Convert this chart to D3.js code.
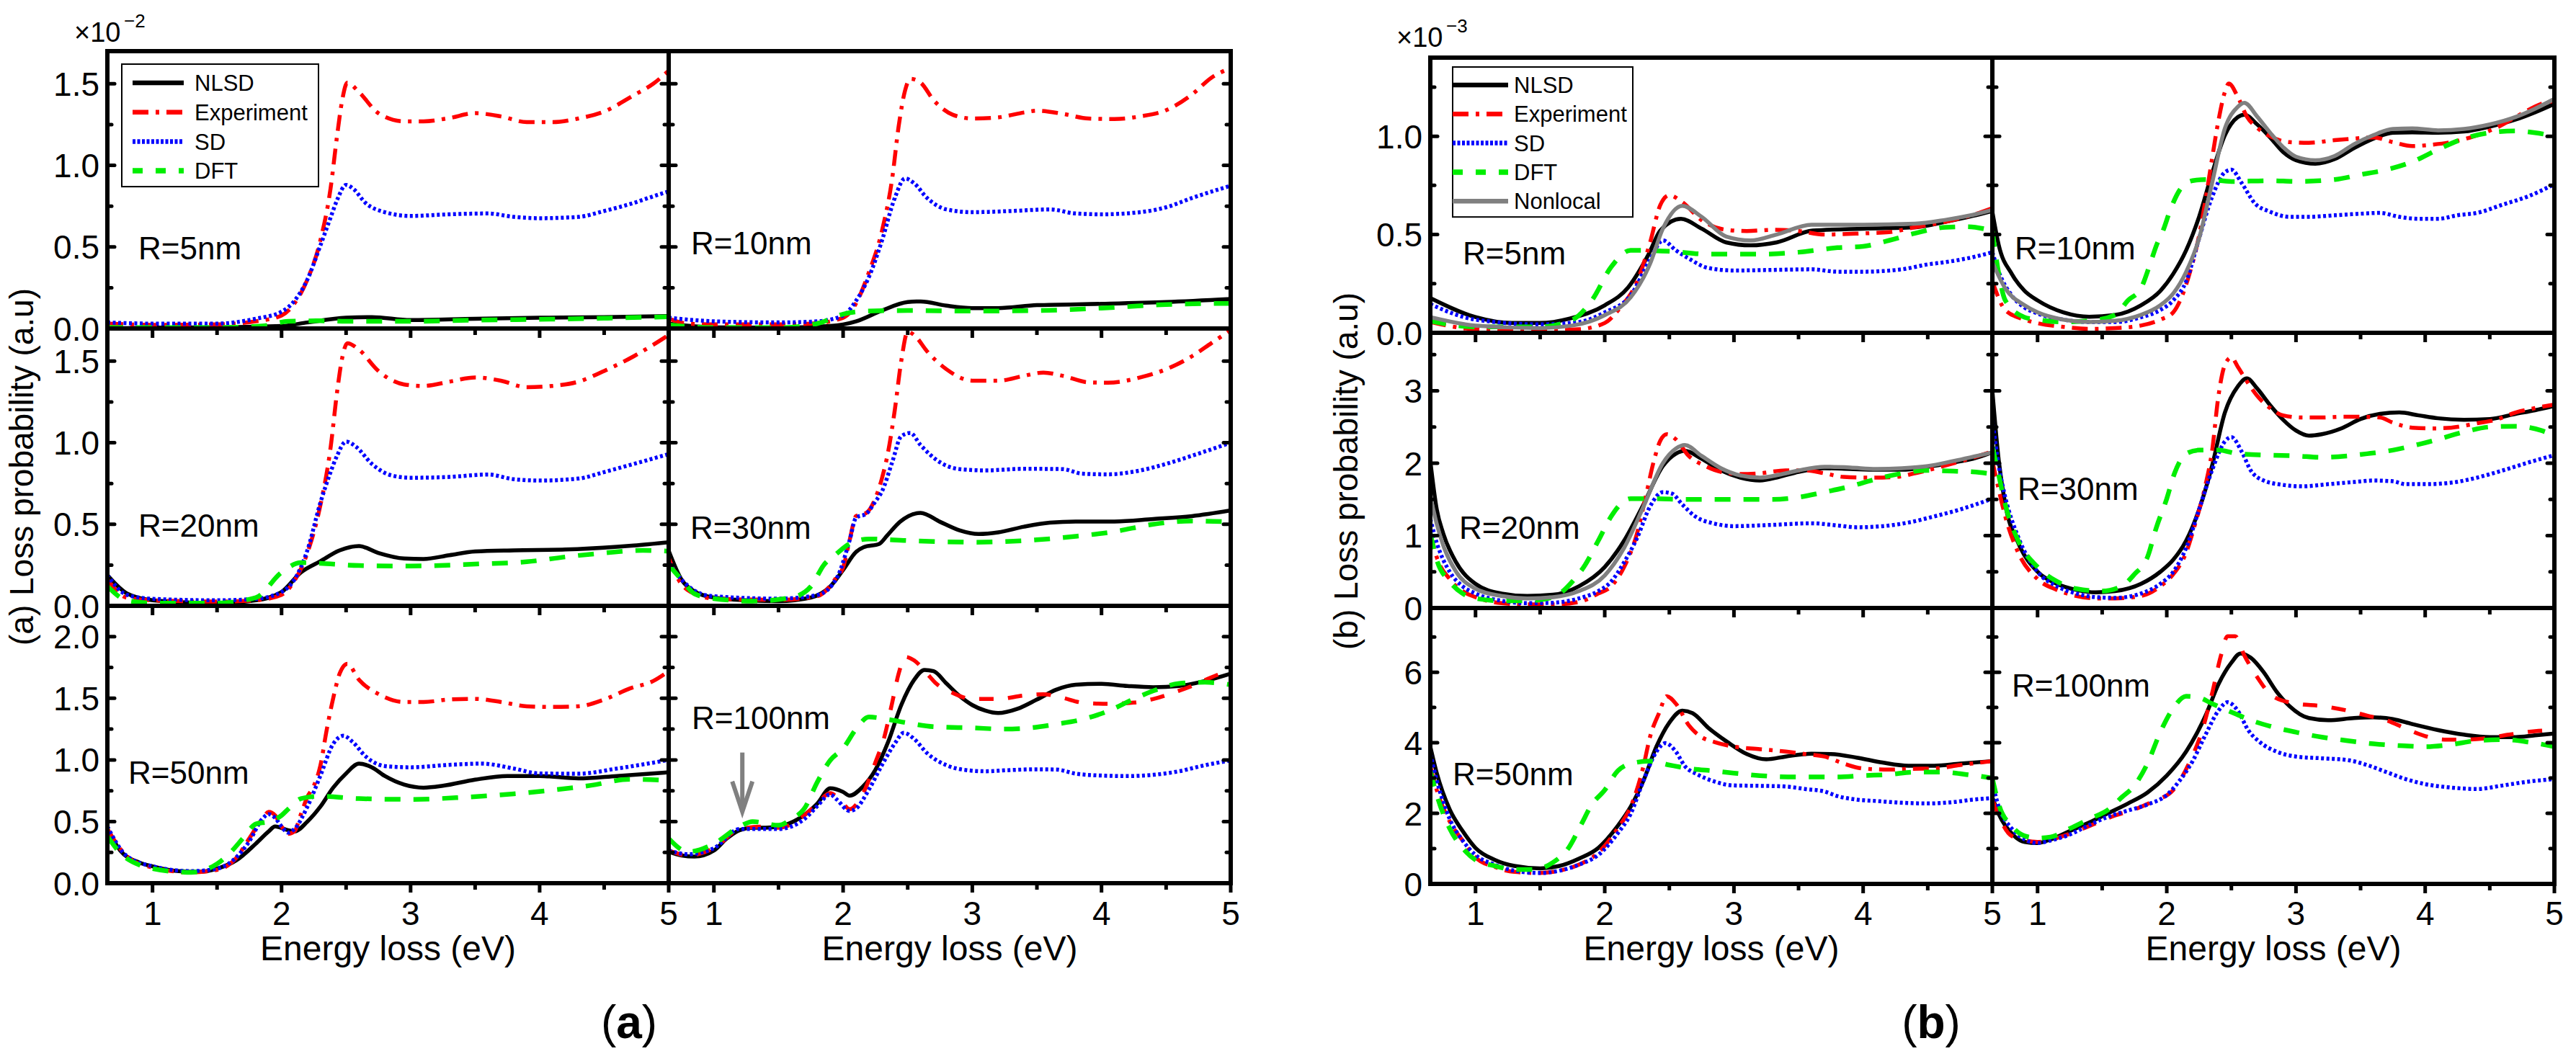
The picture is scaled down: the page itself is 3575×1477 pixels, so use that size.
<!DOCTYPE html>
<html>
<head>
<meta charset="utf-8">
<script src="https://cdn.jsdelivr.net/npm/d3@7"></script>
<style>
body{margin:0;background:#fff}
svg{display:block}
text{font-family:"Liberation Sans",Arial,Helvetica,sans-serif;fill:#000}
</style>
</head>
<body>
<div id="chart"></div>
<script>
"use strict";
// ---- data: [energy (eV), loss probability] ----
// panel (a), units of 1e-2
const a5NLSD=[[0.65,0.0],[1.0,0.005],[1.5,0.007],[2.0,0.015],[2.2,0.037],[2.5,0.066],[2.7,0.07],[3.0,0.052],[3.5,0.06],[4.0,0.066],[4.5,0.07],[5.0,0.076]];
const a5Exp=[[0.65,0.03],[1.0,0.022],[1.5,0.025],[1.8,0.044],[2.0,0.08],[2.1,0.154],[2.2,0.30],[2.3,0.537],[2.38,0.86],[2.43,1.18],[2.47,1.40],[2.51,1.507],[2.6,1.449],[2.75,1.32],[2.95,1.27],[3.1,1.27],[3.3,1.29],[3.5,1.32],[3.7,1.30],[3.9,1.265],[4.1,1.265],[4.3,1.287],[4.5,1.33],[4.73,1.43],[4.88,1.50],[5.0,1.58]];
const a5SD=[[0.65,0.037],[1.0,0.03],[1.5,0.03],[1.8,0.06],[2.0,0.103],[2.1,0.17],[2.2,0.30],[2.3,0.507],[2.38,0.68],[2.43,0.787],[2.5,0.88],[2.56,0.853],[2.65,0.77],[2.8,0.713],[3.0,0.69],[3.3,0.70],[3.6,0.705],[3.8,0.684],[4.0,0.676],[4.3,0.684],[4.5,0.72],[4.73,0.77],[4.88,0.81],[5.0,0.84]];
const a5DFT=[[0.65,0.007],[1.0,0.005],[1.5,0.005],[1.85,0.015],[2.05,0.044],[2.3,0.047],[2.5,0.044],[3.0,0.044],[3.5,0.051],[4.0,0.056],[4.5,0.063],[5.0,0.072]];

const a10NLSD=[[0.65,0.03],[1.0,0.007],[1.5,0.004],[1.9,0.015],[2.1,0.044],[2.3,0.11],[2.5,0.162],[2.6,0.166],[2.8,0.14],[3.0,0.125],[3.2,0.125],[3.5,0.143],[4.0,0.151],[4.5,0.162],[5.0,0.181]];
const a10Exp=[[0.65,0.06],[0.8,0.03],[1.0,0.025],[1.5,0.025],[1.75,0.03],[2.0,0.066],[2.1,0.154],[2.2,0.345],[2.3,0.596],[2.38,0.92],[2.43,1.24],[2.48,1.46],[2.52,1.53],[2.6,1.507],[2.7,1.40],[2.85,1.31],[3.0,1.287],[3.2,1.294],[3.4,1.324],[3.5,1.335],[3.7,1.316],[3.9,1.287],[4.1,1.284],[4.3,1.30],[4.5,1.338],[4.7,1.434],[4.85,1.537],[5.0,1.596]];
const a10SD=[[0.65,0.066],[1.0,0.044],[1.5,0.037],[1.8,0.044],[2.0,0.08],[2.1,0.17],[2.2,0.316],[2.3,0.537],[2.4,0.80],[2.48,0.92],[2.55,0.89],[2.65,0.80],[2.8,0.73],[3.0,0.713],[3.3,0.72],[3.6,0.73],[3.8,0.705],[4.0,0.70],[4.3,0.713],[4.5,0.743],[4.7,0.80],[5.0,0.875]];
const a10DFT=[[0.65,0.022],[1.0,0.005],[1.5,0.005],[1.8,0.03],[2.0,0.088],[2.2,0.107],[2.5,0.11],[3.0,0.107],[3.5,0.11],[4.0,0.125],[4.5,0.147],[5.0,0.154]];

const a20NLSD=[[0.65,0.188],[0.8,0.077],[1.0,0.034],[1.3,0.02],[1.5,0.017],[1.8,0.034],[2.0,0.085],[2.15,0.205],[2.3,0.273],[2.45,0.34],[2.6,0.367],[2.75,0.324],[2.95,0.29],[3.1,0.287],[3.3,0.31],[3.5,0.333],[3.8,0.34],[4.2,0.345],[4.6,0.362],[4.73,0.37],[5.0,0.39]];
const a20Exp=[[0.65,0.162],[0.8,0.05],[1.0,0.034],[1.5,0.026],[1.8,0.034],[2.0,0.068],[2.1,0.154],[2.2,0.324],[2.3,0.614],[2.38,0.97],[2.43,1.31],[2.47,1.52],[2.51,1.61],[2.6,1.57],[2.75,1.44],[2.95,1.357],[3.1,1.348],[3.3,1.374],[3.5,1.40],[3.7,1.38],[3.9,1.34],[4.1,1.348],[4.3,1.374],[4.5,1.44],[4.73,1.53],[4.88,1.60],[5.0,1.66]];
const a20SD=[[0.65,0.188],[0.8,0.068],[1.0,0.043],[1.5,0.034],[1.8,0.043],[2.0,0.085],[2.1,0.162],[2.2,0.34],[2.3,0.63],[2.38,0.82],[2.43,0.92],[2.5,1.007],[2.58,0.973],[2.7,0.87],[2.85,0.80],[3.0,0.785],[3.3,0.79],[3.6,0.805],[3.8,0.776],[4.0,0.768],[4.3,0.78],[4.5,0.82],[4.73,0.87],[5.0,0.93]];
const a20DFT=[[0.65,0.12],[0.8,0.034],[1.0,0.017],[1.5,0.017],[1.8,0.05],[2.0,0.205],[2.15,0.265],[2.3,0.26],[2.6,0.247],[3.0,0.244],[3.5,0.256],[3.9,0.27],[4.2,0.30],[4.5,0.324],[4.8,0.34],[5.0,0.335]];

const a30NLSD=[[0.65,0.338],[0.75,0.16],[0.85,0.088],[1.0,0.051],[1.3,0.032],[1.5,0.029],[1.75,0.051],[1.9,0.118],[2.0,0.22],[2.1,0.33],[2.16,0.36],[2.28,0.38],[2.34,0.43],[2.44,0.515],[2.6,0.57],[2.75,0.515],[2.9,0.463],[3.05,0.44],[3.2,0.45],[3.4,0.485],[3.6,0.51],[3.8,0.517],[4.1,0.517],[4.4,0.532],[4.7,0.55],[5.0,0.585]];
const a30Exp=[[0.65,0.294],[0.75,0.132],[0.9,0.059],[1.0,0.044],[1.5,0.037],[1.8,0.059],[1.95,0.176],[2.0,0.235],[2.05,0.40],[2.1,0.55],[2.18,0.57],[2.25,0.66],[2.3,0.78],[2.35,0.95],[2.4,1.2],[2.45,1.5],[2.5,1.68],[2.55,1.66],[2.65,1.56],[2.8,1.45],[3.0,1.38],[3.2,1.38],[3.4,1.41],[3.55,1.43],[3.7,1.41],[3.9,1.37],[4.05,1.368],[4.3,1.40],[4.5,1.45],[4.7,1.53],[4.85,1.61],[5.0,1.69]];
const a30SD=[[0.65,0.265],[0.75,0.16],[0.9,0.074],[1.0,0.059],[1.5,0.044],[1.8,0.066],[1.95,0.169],[2.05,0.40],[2.1,0.54],[2.18,0.565],[2.25,0.64],[2.3,0.70],[2.38,0.88],[2.45,1.04],[2.52,1.06],[2.6,0.985],[2.75,0.88],[2.9,0.838],[3.1,0.83],[3.4,0.84],[3.7,0.838],[3.85,0.81],[4.05,0.806],[4.3,0.83],[4.5,0.87],[4.7,0.92],[5.0,1.0]];
const a30DFT=[[0.65,0.25],[0.75,0.16],[0.85,0.074],[1.0,0.044],[1.3,0.029],[1.6,0.051],[1.75,0.118],[1.85,0.25],[1.95,0.32],[2.05,0.38],[2.2,0.41],[2.5,0.40],[3.0,0.39],[3.5,0.405],[3.8,0.426],[4.1,0.455],[4.4,0.50],[4.7,0.52],[5.0,0.515]];

const a50NLSD=[[0.65,0.44],[0.75,0.265],[0.9,0.167],[1.0,0.137],[1.2,0.098],[1.35,0.092],[1.5,0.118],[1.65,0.186],[1.8,0.32],[1.9,0.42],[1.95,0.46],[2.05,0.43],[2.1,0.42],[2.2,0.50],[2.3,0.62],[2.4,0.775],[2.5,0.89],[2.6,0.97],[2.7,0.94],[2.8,0.87],[2.95,0.80],[3.1,0.775],[3.25,0.79],[3.5,0.84],[3.75,0.87],[4.0,0.87],[4.3,0.85],[4.6,0.87],[5.0,0.90]];
const a50Exp=[[0.65,0.44],[0.8,0.22],[1.0,0.127],[1.3,0.088],[1.5,0.108],[1.65,0.206],[1.75,0.363],[1.85,0.52],[1.9,0.578],[1.95,0.55],[2.0,0.46],[2.05,0.40],[2.1,0.42],[2.15,0.56],[2.2,0.70],[2.25,0.79],[2.3,0.95],[2.35,1.245],[2.4,1.50],[2.45,1.70],[2.51,1.78],[2.6,1.65],[2.75,1.535],[2.95,1.47],[3.1,1.47],[3.3,1.49],[3.5,1.495],[3.7,1.47],[3.9,1.435],[4.1,1.43],[4.3,1.435],[4.5,1.49],[4.7,1.58],[4.88,1.64],[5.0,1.72]];
const a50SD=[[0.65,0.46],[0.8,0.22],[1.0,0.137],[1.3,0.098],[1.5,0.118],[1.75,0.34],[1.85,0.52],[1.9,0.56],[1.95,0.53],[2.0,0.46],[2.05,0.41],[2.1,0.44],[2.2,0.62],[2.3,0.87],[2.4,1.13],[2.48,1.196],[2.55,1.147],[2.65,1.03],[2.8,0.95],[3.0,0.94],[3.3,0.96],[3.55,0.97],[3.8,0.93],[4.0,0.89],[4.3,0.888],[4.6,0.93],[5.0,1.0]];
const a50DFT=[[0.65,0.38],[0.75,0.245],[0.9,0.147],[1.0,0.118],[1.3,0.088],[1.5,0.157],[1.6,0.245],[1.7,0.363],[1.8,0.48],[1.9,0.50],[2.0,0.55],[2.05,0.60],[2.15,0.686],[2.3,0.706],[2.6,0.686],[3.0,0.68],[3.4,0.696],[3.8,0.725],[4.1,0.755],[4.4,0.794],[4.7,0.843],[5.0,0.833]];

const a100NLSD=[[0.65,0.255],[0.75,0.225],[0.85,0.216],[1.0,0.265],[1.1,0.363],[1.2,0.43],[1.3,0.45],[1.4,0.45],[1.5,0.46],[1.65,0.52],[1.8,0.645],[1.9,0.77],[2.0,0.74],[2.05,0.71],[2.15,0.78],[2.25,0.92],[2.35,1.15],[2.45,1.445],[2.55,1.65],[2.63,1.73],[2.7,1.72],[2.8,1.62],[2.9,1.52],[3.0,1.445],[3.1,1.40],[3.2,1.38],[3.35,1.415],[3.5,1.49],[3.65,1.57],[3.8,1.61],[4.0,1.617],[4.2,1.60],[4.4,1.59],[4.6,1.60],[4.8,1.64],[5.0,1.70]];
const a100Exp=[[0.65,0.265],[0.8,0.225],[1.0,0.284],[1.2,0.44],[1.4,0.46],[1.5,0.45],[1.7,0.55],[1.8,0.645],[1.9,0.73],[2.0,0.645],[2.05,0.60],[2.15,0.72],[2.25,0.98],[2.32,1.19],[2.38,1.465],[2.43,1.70],[2.48,1.836],[2.55,1.807],[2.65,1.70],[2.72,1.62],[2.85,1.543],[3.0,1.494],[3.2,1.494],[3.4,1.523],[3.55,1.533],[3.7,1.504],[3.85,1.465],[4.05,1.455],[4.25,1.465],[4.4,1.494],[4.55,1.543],[4.7,1.60],[4.85,1.67],[5.0,1.73]];
const a100SD=[[0.65,0.265],[0.8,0.235],[1.0,0.284],[1.2,0.44],[1.5,0.44],[1.7,0.52],[1.8,0.625],[1.9,0.72],[1.95,0.68],[2.05,0.586],[2.1,0.605],[2.2,0.76],[2.3,0.957],[2.4,1.133],[2.47,1.22],[2.55,1.17],[2.65,1.055],[2.8,0.957],[2.95,0.918],[3.1,0.908],[3.3,0.918],[3.5,0.924],[3.65,0.922],[3.8,0.889],[4.0,0.873],[4.2,0.869],[4.4,0.879],[4.6,0.908],[4.8,0.957],[5.0,0.996]];
const a100DFT=[[0.65,0.363],[0.8,0.255],[1.0,0.32],[1.2,0.46],[1.3,0.50],[1.5,0.47],[1.6,0.52],[1.7,0.605],[1.8,0.82],[1.9,0.996],[2.0,1.094],[2.1,1.25],[2.2,1.348],[2.35,1.328],[2.5,1.30],[2.7,1.27],[3.0,1.26],[3.25,1.25],[3.45,1.26],[3.65,1.29],[3.85,1.328],[4.05,1.396],[4.25,1.494],[4.4,1.56],[4.6,1.62],[4.8,1.63],[5.0,1.61]];

// panel (b), units of 1e-3
const b5NLSD=[[0.65,0.177],[1.0,0.08],[1.28,0.05],[1.5,0.05],[1.73,0.073],[2.0,0.14],[2.18,0.23],[2.34,0.40],[2.43,0.52],[2.59,0.58],[2.75,0.53],[2.94,0.46],[3.13,0.445],[3.33,0.46],[3.61,0.52],[4.0,0.53],[4.41,0.537],[4.64,0.565],[4.85,0.595],[5.0,0.62]];
const b5Exp=[[0.65,0.055],[1.0,0.018],[1.5,0.012],[1.8,0.018],[2.0,0.05],[2.12,0.128],[2.25,0.26],[2.35,0.457],[2.43,0.65],[2.5,0.70],[2.6,0.665],[2.75,0.573],[2.94,0.524],[3.1,0.518],[3.3,0.524],[3.5,0.518],[3.7,0.50],[4.0,0.506],[4.2,0.512],[4.4,0.537],[4.64,0.565],[4.85,0.60],[5.0,0.634]];
const b5SD=[[0.65,0.146],[1.0,0.067],[1.5,0.043],[1.8,0.055],[2.0,0.104],[2.2,0.19],[2.35,0.372],[2.45,0.47],[2.55,0.42],[2.65,0.378],[2.8,0.33],[3.0,0.317],[3.3,0.32],[3.6,0.323],[3.8,0.311],[4.0,0.311],[4.3,0.323],[4.5,0.348],[4.64,0.36],[4.85,0.385],[5.0,0.41]];
const b5DFT=[[0.65,0.06],[1.0,0.03],[1.5,0.03],[1.75,0.067],[1.9,0.165],[2.05,0.335],[2.2,0.42],[2.5,0.415],[2.8,0.40],[3.2,0.40],[3.5,0.41],[3.8,0.433],[4.0,0.44],[4.2,0.47],[4.4,0.506],[4.64,0.537],[4.8,0.54],[5.0,0.52]];
const b5Nonlocal=[[0.65,0.08],[1.0,0.037],[1.5,0.024],[1.75,0.037],[2.0,0.09],[2.2,0.18],[2.35,0.35],[2.45,0.53],[2.6,0.646],[2.75,0.59],[2.94,0.49],[3.13,0.47],[3.33,0.50],[3.6,0.55],[4.0,0.55],[4.4,0.555],[4.64,0.575],[4.85,0.60],[5.0,0.625]];

const b10NLSD=[[0.65,0.616],[0.7,0.445],[0.8,0.30],[0.9,0.213],[1.0,0.165],[1.2,0.104],[1.4,0.082],[1.6,0.091],[1.8,0.14],[1.95,0.213],[2.05,0.30],[2.15,0.42],[2.25,0.59],[2.35,0.81],[2.45,1.006],[2.55,1.098],[2.6,1.11],[2.7,1.06],[2.8,0.994],[2.9,0.92],[3.0,0.878],[3.15,0.86],[3.3,0.884],[3.45,0.94],[3.6,0.988],[3.75,1.018],[3.9,1.02],[4.1,1.018],[4.3,1.024],[4.5,1.049],[4.7,1.085],[4.85,1.122],[5.0,1.165]];
const b10Exp=[[0.65,0.262],[0.75,0.116],[0.9,0.067],[1.0,0.049],[1.2,0.03],[1.4,0.02],[1.6,0.024],[1.8,0.037],[1.95,0.067],[2.05,0.104],[2.12,0.19],[2.18,0.31],[2.25,0.494],[2.3,0.677],[2.35,0.884],[2.4,1.08],[2.45,1.226],[2.48,1.268],[2.55,1.20],[2.62,1.10],[2.7,1.043],[2.8,1.0],[2.95,0.97],[3.1,0.967],[3.3,0.98],[3.45,0.988],[3.6,0.994],[3.75,0.97],[3.9,0.95],[4.05,0.957],[4.2,0.97],[4.35,0.994],[4.55,1.043],[4.75,1.116],[4.9,1.165],[5.0,1.18]];
const b10SD=[[0.65,0.41],[0.7,0.31],[0.8,0.19],[0.9,0.128],[1.0,0.098],[1.2,0.067],[1.4,0.055],[1.6,0.055],[1.8,0.079],[1.95,0.116],[2.05,0.165],[2.15,0.262],[2.25,0.48],[2.35,0.69],[2.45,0.817],[2.5,0.83],[2.58,0.762],[2.68,0.66],[2.8,0.616],[2.95,0.59],[3.1,0.59],[3.3,0.598],[3.5,0.606],[3.65,0.61],[3.8,0.59],[3.95,0.58],[4.1,0.58],[4.25,0.598],[4.4,0.61],[4.6,0.652],[4.8,0.695],[5.0,0.756]];
const b10DFT=[[0.65,0.518],[0.7,0.30],[0.75,0.165],[0.9,0.079],[1.0,0.067],[1.2,0.055],[1.4,0.061],[1.6,0.091],[1.7,0.165],[1.8,0.226],[1.87,0.348],[1.92,0.445],[1.97,0.518],[2.03,0.63],[2.1,0.726],[2.2,0.774],[2.3,0.78],[2.5,0.77],[2.8,0.774],[3.0,0.77],[3.3,0.78],[3.5,0.805],[3.7,0.83],[3.9,0.87],[4.1,0.933],[4.3,0.988],[4.5,1.018],[4.7,1.027],[4.85,1.018],[5.0,1.0]];
const b10Nonlocal=[[0.65,0.36],[0.75,0.226],[0.9,0.14],[1.0,0.104],[1.2,0.067],[1.4,0.055],[1.6,0.061],[1.8,0.091],[1.95,0.14],[2.05,0.20],[2.15,0.31],[2.25,0.48],[2.35,0.76],[2.45,1.04],[2.55,1.15],[2.6,1.17],[2.7,1.10],[2.8,1.018],[2.9,0.945],[3.0,0.896],[3.15,0.878],[3.3,0.90],[3.45,0.96],[3.6,1.006],[3.75,1.037],[3.9,1.04],[4.1,1.03],[4.3,1.037],[4.5,1.06],[4.7,1.098],[4.85,1.14],[5.0,1.19]];

const b20NLSD=[[0.65,2.03],[0.7,1.36],[0.75,1.03],[0.85,0.63],[1.0,0.333],[1.2,0.20],[1.4,0.166],[1.6,0.183],[1.8,0.30],[2.0,0.566],[2.15,0.93],[2.3,1.43],[2.45,1.96],[2.55,2.13],[2.62,2.17],[2.75,2.06],[2.9,1.90],[3.05,1.80],[3.2,1.76],[3.35,1.81],[3.5,1.88],[3.7,1.93],[3.9,1.92],[4.1,1.91],[4.3,1.91],[4.5,1.95],[4.7,2.01],[4.85,2.06],[5.0,2.15]];
const b20Exp=[[0.65,1.03],[0.7,0.70],[0.8,0.40],[0.9,0.233],[1.0,0.15],[1.2,0.067],[1.4,0.05],[1.6,0.05],[1.8,0.083],[1.95,0.20],[2.05,0.30],[2.15,0.566],[2.25,1.03],[2.32,1.56],[2.38,2.03],[2.43,2.31],[2.48,2.40],[2.55,2.33],[2.65,2.10],[2.78,1.96],[2.9,1.88],[3.05,1.85],[3.2,1.86],[3.4,1.90],[3.55,1.90],[3.7,1.86],[3.85,1.81],[4.05,1.80],[4.25,1.81],[4.4,1.86],[4.6,1.95],[4.8,2.05],[5.0,2.16]];
const b20SD=[[0.65,1.23],[0.7,0.90],[0.8,0.50],[0.9,0.30],[1.0,0.20],[1.2,0.10],[1.4,0.067],[1.6,0.073],[1.8,0.133],[1.95,0.233],[2.05,0.366],[2.15,0.632],[2.25,0.965],[2.35,1.40],[2.45,1.60],[2.52,1.58],[2.6,1.43],[2.7,1.265],[2.85,1.165],[3.0,1.13],[3.3,1.148],[3.6,1.17],[3.8,1.14],[3.95,1.115],[4.15,1.13],[4.35,1.18],[4.55,1.265],[4.75,1.36],[5.0,1.51]];
const b20DFT=[[0.65,1.03],[0.7,0.666],[0.8,0.366],[0.9,0.20],[1.0,0.133],[1.2,0.10],[1.4,0.10],[1.6,0.15],[1.75,0.366],[1.85,0.60],[1.95,0.93],[2.05,1.265],[2.12,1.43],[2.2,1.51],[2.4,1.51],[2.6,1.50],[3.0,1.50],[3.3,1.50],[3.5,1.53],[3.7,1.60],[3.9,1.68],[4.1,1.78],[4.3,1.86],[4.5,1.90],[4.7,1.89],[4.85,1.88],[5.0,1.85]];
const b20Nonlocal=[[0.65,1.55],[0.7,1.16],[0.75,0.865],[0.85,0.50],[1.0,0.266],[1.2,0.166],[1.4,0.133],[1.6,0.15],[1.8,0.233],[2.0,0.45],[2.15,0.83],[2.3,1.40],[2.45,2.0],[2.55,2.20],[2.62,2.25],[2.75,2.10],[2.9,1.93],[3.05,1.83],[3.2,1.80],[3.35,1.84],[3.5,1.90],[3.7,1.95],[3.9,1.94],[4.1,1.92],[4.3,1.93],[4.5,1.96],[4.7,2.03],[5.0,2.15]];

const b30NLSD=[[0.65,3.0],[0.7,2.03],[0.75,1.43],[0.85,0.90],[1.0,0.50],[1.15,0.333],[1.3,0.25],[1.45,0.216],[1.6,0.233],[1.8,0.333],[1.95,0.50],[2.05,0.666],[2.15,0.93],[2.25,1.36],[2.35,1.96],[2.45,2.70],[2.55,3.06],[2.62,3.17],[2.7,3.03],[2.8,2.80],[2.9,2.60],[3.0,2.45],[3.1,2.38],[3.2,2.40],[3.35,2.48],[3.5,2.61],[3.65,2.68],[3.8,2.70],[3.95,2.66],[4.1,2.62],[4.3,2.60],[4.5,2.61],[4.7,2.68],[4.85,2.73],[5.0,2.79]];
const b30Exp=[[0.65,2.03],[0.7,1.63],[0.75,1.265],[0.85,0.765],[1.0,0.40],[1.15,0.25],[1.3,0.166],[1.45,0.133],[1.6,0.133],[1.8,0.166],[1.95,0.30],[2.05,0.466],[2.15,0.765],[2.22,1.165],[2.3,1.70],[2.35,2.16],[2.4,2.93],[2.45,3.36],[2.5,3.46],[2.55,3.33],[2.62,3.13],[2.7,2.93],[2.8,2.76],[2.9,2.66],[3.05,2.63],[3.2,2.63],[3.35,2.64],[3.5,2.64],[3.65,2.63],[3.75,2.56],[3.9,2.49],[4.05,2.48],[4.2,2.49],[4.4,2.55],[4.55,2.60],[4.7,2.70],[4.85,2.76],[5.0,2.81]];
const b30SD=[[0.65,2.60],[0.7,1.96],[0.75,1.53],[0.85,0.98],[1.0,0.50],[1.15,0.30],[1.3,0.20],[1.45,0.15],[1.6,0.14],[1.8,0.20],[1.95,0.333],[2.05,0.50],[2.15,0.83],[2.25,1.36],[2.35,1.90],[2.45,2.30],[2.5,2.36],[2.58,2.16],[2.65,1.90],[2.75,1.76],[2.9,1.70],[3.05,1.68],[3.25,1.71],[3.45,1.74],[3.6,1.76],[3.75,1.75],[3.85,1.71],[4.0,1.71],[4.2,1.73],[4.4,1.80],[4.6,1.90],[4.8,2.01],[5.0,2.11]];
const b30DFT=[[0.65,2.23],[0.7,1.83],[0.75,1.43],[0.85,0.93],[1.0,0.566],[1.15,0.366],[1.3,0.266],[1.5,0.233],[1.65,0.30],[1.75,0.466],[1.85,0.70],[1.92,1.115],[2.0,1.51],[2.06,1.86],[2.15,2.13],[2.25,2.18],[2.4,2.18],[2.55,2.13],[2.8,2.11],[3.0,2.10],[3.2,2.08],[3.4,2.10],[3.55,2.13],[3.75,2.18],[3.95,2.26],[4.1,2.33],[4.3,2.43],[4.5,2.50],[4.7,2.51],[4.9,2.45],[5.0,2.38]];

const b50NLSD=[[0.65,3.89],[0.7,3.14],[0.8,2.11],[0.9,1.50],[1.0,1.02],[1.15,0.68],[1.3,0.51],[1.5,0.44],[1.65,0.51],[1.8,0.716],[1.95,1.02],[2.1,1.64],[2.2,2.18],[2.3,2.93],[2.4,3.89],[2.5,4.57],[2.6,4.91],[2.68,4.84],[2.8,4.43],[2.95,4.02],[3.1,3.68],[3.25,3.53],[3.4,3.61],[3.6,3.69],[3.75,3.68],[3.95,3.58],[4.15,3.44],[4.35,3.35],[4.55,3.35],[4.75,3.41],[5.0,3.48]];
const b50Exp=[[0.65,3.34],[0.7,2.66],[0.8,1.77],[0.9,1.23],[1.0,0.75],[1.15,0.48],[1.3,0.34],[1.5,0.31],[1.65,0.375],[1.8,0.545],[1.95,0.886],[2.1,1.57],[2.2,2.18],[2.3,3.34],[2.35,4.16],[2.42,4.84],[2.48,5.32],[2.55,5.11],[2.65,4.50],[2.75,4.16],[2.85,4.02],[3.0,3.89],[3.2,3.82],[3.4,3.75],[3.55,3.68],[3.7,3.61],[3.85,3.41],[4.0,3.27],[4.2,3.24],[4.35,3.26],[4.55,3.27],[4.75,3.37],[5.0,3.48]];
const b50SD=[[0.65,3.68],[0.7,2.93],[0.8,1.84],[0.9,1.23],[1.0,0.82],[1.15,0.545],[1.3,0.375],[1.5,0.31],[1.65,0.375],[1.8,0.545],[1.95,0.82],[2.1,1.43],[2.2,1.98],[2.3,2.93],[2.4,3.75],[2.47,3.99],[2.55,3.75],[2.62,3.34],[2.72,3.10],[2.85,2.90],[3.0,2.79],[3.2,2.78],[3.4,2.76],[3.55,2.69],[3.7,2.62],[3.8,2.49],[3.95,2.39],[4.1,2.35],[4.3,2.30],[4.5,2.28],[4.7,2.32],[4.85,2.39],[5.0,2.43]];
const b50DFT=[[0.65,3.20],[0.7,2.52],[0.8,1.57],[0.9,1.02],[1.0,0.68],[1.15,0.51],[1.3,0.41],[1.45,0.41],[1.6,0.61],[1.72,1.02],[1.82,1.70],[1.9,2.25],[2.0,2.66],[2.1,3.20],[2.2,3.41],[2.35,3.48],[2.5,3.37],[2.65,3.27],[2.85,3.20],[3.0,3.14],[3.2,3.07],[3.5,3.03],[3.8,3.03],[4.0,3.07],[4.2,3.10],[4.4,3.17],[4.6,3.17],[4.8,3.10],[5.0,3.0]];

const b100NLSD=[[0.65,2.45],[0.7,1.98],[0.8,1.43],[0.9,1.19],[1.0,1.16],[1.1,1.26],[1.25,1.50],[1.4,1.74],[1.55,2.01],[1.7,2.28],[1.85,2.59],[2.0,3.07],[2.15,3.75],[2.3,4.77],[2.4,5.66],[2.5,6.27],[2.57,6.53],[2.65,6.41],[2.75,6.0],[2.85,5.45],[2.95,5.04],[3.1,4.70],[3.25,4.64],[3.45,4.70],[3.6,4.72],[3.75,4.67],[3.9,4.53],[4.1,4.36],[4.3,4.23],[4.5,4.16],[4.7,4.16],[4.85,4.21],[5.0,4.26]];
const b100Exp=[[0.65,2.39],[0.8,1.36],[1.0,1.19],[1.2,1.36],[1.4,1.64],[1.6,1.94],[1.75,2.11],[1.9,2.35],[2.05,2.66],[2.18,3.48],[2.27,4.30],[2.35,5.39],[2.42,6.48],[2.47,7.02],[2.53,7.02],[2.6,6.48],[2.7,5.86],[2.82,5.32],[3.0,5.11],[3.2,5.04],[3.4,4.91],[3.55,4.77],[3.7,4.64],[3.85,4.40],[4.0,4.19],[4.15,4.09],[4.3,4.09],[4.45,4.12],[4.65,4.23],[4.85,4.33],[5.0,4.36]];
const b100SD=[[0.65,2.86],[0.7,2.18],[0.8,1.57],[0.9,1.26],[1.0,1.16],[1.1,1.23],[1.25,1.40],[1.4,1.67],[1.55,1.91],[1.7,2.08],[1.85,2.25],[2.0,2.52],[2.1,2.93],[2.2,3.48],[2.3,4.23],[2.4,4.91],[2.47,5.15],[2.55,4.91],[2.63,4.36],[2.72,4.02],[2.85,3.75],[3.0,3.61],[3.2,3.56],[3.4,3.51],[3.55,3.37],[3.7,3.17],[3.85,2.97],[4.0,2.83],[4.2,2.73],[4.4,2.69],[4.6,2.79],[4.8,2.90],[5.0,2.97]];
const b100DFT=[[0.65,3.0],[0.7,2.25],[0.8,1.64],[0.9,1.36],[1.0,1.30],[1.1,1.33],[1.25,1.57],[1.4,1.84],[1.55,2.11],[1.65,2.45],[1.75,2.79],[1.85,3.41],[1.95,4.30],[2.05,4.98],[2.15,5.32],[2.25,5.28],[2.35,5.11],[2.5,4.87],[2.65,4.64],[2.8,4.47],[3.0,4.30],[3.2,4.16],[3.4,4.06],[3.6,3.97],[3.8,3.92],[4.0,3.89],[4.2,3.95],[4.4,4.06],[4.6,4.09],[4.8,4.02],[5.0,3.89]];

const xMajor=[1,2,3,4,5];
const xMinor=[1.5,2.5,3.5,4.5];
const yTicksA12=[0,0.5,1.0,1.5], yMinorA12=[0.25,0.75,1.25];
const yTicksA3=[0,0.5,1.0,1.5,2.0], yMinorA3=[0.25,0.75,1.25,1.75];
const yTicksB1=[0,0.5,1.0], yMinorB1=[0.25,0.75,1.25];
const yTicksB2=[0,1,2,3], yMinorB2=[0.5,1.5,2.5,3.5];
const yTicksB3=[0,2,4,6], yMinorB3=[1,3,5,7];
const legendA=["NLSD","Experiment","SD","DFT"];
const legendB=["NLSD","Experiment","SD","DFT","Nonlocal"];
// arrow marking the shoulder in R=100nm (a): energy, top, tip
const arrowA=[1.22,1.06,0.58];

// ---- styles ----
const style={
  NLSD:{c:"#000000",w:5.5,d:null},
  Experiment:{c:"#ff0000",w:5.5,d:"22,10,5,10"},
  SD:{c:"#0000ff",w:5.5,d:"4,3.5"},
  DFT:{c:"#00ee00",w:6.5,d:"22,18"},
  Nonlocal:{c:"#808080",w:5.5,d:null}
};

const W=3575,H=1477;
const svg=d3.select("#chart").append("svg").attr("width",W).attr("height",H);
svg.append("rect").attr("width",W).attr("height",H).attr("fill","#fff");

// panel layout
const panA={x:[149,928,1708],y:[71,456,841,1226],fmt:d3.format(".1f"),
  rows:[{dom:[0,1.7],maj:yTicksA12,min:yMinorA12},{dom:[0,1.7],maj:yTicksA12,min:yMinorA12},{dom:[0,2.25],maj:yTicksA3,min:yMinorA3}]};
const panB={x:[1985,2765,3545],y:[80,462,844,1227],
  rows:[{dom:[0,1.4],maj:yTicksB1,min:yMinorB1,fmt:d3.format(".1f")},{dom:[0,3.8],maj:yTicksB2,min:yMinorB2,fmt:d3.format("d")},{dom:[0,7.82],maj:yTicksB3,min:yMinorB3,fmt:d3.format("d")}]};

const subplots=[
  {p:panA,r:0,c:0,lab:"R=5nm",lx:192,ly:360,s:{NLSD:a5NLSD,Experiment:a5Exp,SD:a5SD,DFT:a5DFT}},
  {p:panA,r:0,c:1,lab:"R=10nm",lx:959,ly:353,s:{NLSD:a10NLSD,Experiment:a10Exp,SD:a10SD,DFT:a10DFT}},
  {p:panA,r:1,c:0,lab:"R=20nm",lx:192,ly:745,s:{NLSD:a20NLSD,Experiment:a20Exp,SD:a20SD,DFT:a20DFT}},
  {p:panA,r:1,c:1,lab:"R=30nm",lx:958,ly:748,s:{NLSD:a30NLSD,Experiment:a30Exp,SD:a30SD,DFT:a30DFT}},
  {p:panA,r:2,c:0,lab:"R=50nm",lx:178,ly:1088,s:{NLSD:a50NLSD,Experiment:a50Exp,SD:a50SD,DFT:a50DFT}},
  {p:panA,r:2,c:1,lab:"R=100nm",lx:960,ly:1012,dashExp:true,s:{NLSD:a100NLSD,Experiment:a100Exp,SD:a100SD,DFT:a100DFT}},
  {p:panB,r:0,c:0,lab:"R=5nm",lx:2030,ly:367,s:{NLSD:b5NLSD,Experiment:b5Exp,SD:b5SD,DFT:b5DFT,Nonlocal:b5Nonlocal}},
  {p:panB,r:0,c:1,lab:"R=10nm",lx:2796,ly:360,s:{NLSD:b10NLSD,Experiment:b10Exp,SD:b10SD,DFT:b10DFT,Nonlocal:b10Nonlocal}},
  {p:panB,r:1,c:0,lab:"R=20nm",lx:2025,ly:748,s:{NLSD:b20NLSD,Experiment:b20Exp,SD:b20SD,DFT:b20DFT,Nonlocal:b20Nonlocal}},
  {p:panB,r:1,c:1,lab:"R=30nm",lx:2800,ly:694,s:{NLSD:b30NLSD,Experiment:b30Exp,SD:b30SD,DFT:b30DFT}},
  {p:panB,r:2,c:0,lab:"R=50nm",lx:2016,ly:1090,s:{NLSD:b50NLSD,Experiment:b50Exp,SD:b50SD,DFT:b50DFT}},
  {p:panB,r:2,c:1,lab:"R=100nm",lx:2792,ly:967,dashExp:true,s:{NLSD:b100NLSD,Experiment:b100Exp,SD:b100SD,DFT:b100DFT}}
];

const defs=svg.append("defs");
const scales=[];
subplots.forEach((sp,i)=>{
  const P=sp.p,row=P.rows[sp.r];
  const x0=P.x[sp.c],x1=P.x[sp.c+1],y0=P.y[sp.r],y1=P.y[sp.r+1];
  const x=d3.scaleLinear().domain([0.65,5.0]).range([x0,x1]);
  const y=d3.scaleLinear().domain(row.dom).range([y1,y0]);
  scales.push({x,y});
  defs.append("clipPath").attr("id","clip"+i).append("rect")
    .attr("x",x0).attr("y",y0).attr("width",x1-x0).attr("height",y1-y0);
  const g=svg.append("g").attr("class","sub");
  // curves
  const line=d3.line().x(d=>x(d[0])).y(d=>y(d[1])).curve(d3.curveMonotoneX);
  const cg=g.append("g").attr("clip-path","url(#clip"+i+")");
  Object.keys(sp.s).forEach(k=>{
    const st=style[k];
    let dash=st.d;
    if(k==="Experiment"&&sp.dashExp) dash="20,20";
    cg.append("path").datum(sp.s[k]).attr("d",line)
      .attr("fill","none").attr("stroke",st.c).attr("stroke-width",st.w)
      .attr("stroke-dasharray",dash).attr("stroke-linejoin","round");
  });
  // label
  g.append("text").attr("x",sp.lx).attr("y",sp.ly).attr("font-size",44).text(sp.lab);
  // y ticks, inward on both sides
  const tk=g.append("g").attr("stroke","#000").attr("stroke-width",5).attr("stroke-linecap","round");
  row.maj.forEach(v=>{
    if(v===row.dom[0]) return;
    tk.append("line").attr("x1",x0).attr("x2",x0+10).attr("y1",y(v)).attr("y2",y(v));
    tk.append("line").attr("x1",x1).attr("x2",x1-10).attr("y1",y(v)).attr("y2",y(v));
  });
  row.min.forEach(v=>{
    tk.append("line").attr("x1",x0).attr("x2",x0+6).attr("y1",y(v)).attr("y2",y(v));
    tk.append("line").attr("x1",x1).attr("x2",x1-6).attr("y1",y(v)).attr("y2",y(v));
  });
  // x ticks, outward below the row
  const xt=g.append("g").attr("stroke","#000").attr("stroke-width",5);
  xMajor.forEach(v=>xt.append("line").attr("x1",x(v)).attr("x2",x(v)).attr("y1",y1).attr("y2",y1+13));
  xMinor.forEach(v=>xt.append("line").attr("x1",x(v)).attr("x2",x(v)).attr("y1",y1).attr("y2",y1+9));
  // frame
  g.append("rect").attr("x",x0).attr("y",y0).attr("width",x1-x0).attr("height",y1-y0)
    .attr("fill","none").attr("stroke","#000").attr("stroke-width",6);
  // y tick labels only on the left column
  if(sp.c===0){
    const fmt=row.fmt||P.fmt;
    row.maj.forEach(v=>{
      g.append("text").attr("x",x0-11).attr("y",y(v)).attr("dy","0.36em")
        .attr("text-anchor","end").attr("font-size",46).text(fmt(v));
    });
  }
  // x tick labels on the bottom row
  if(sp.r===2){
    xMajor.forEach(v=>{
      g.append("text").attr("x",x(v)).attr("y",1284).attr("text-anchor","middle")
        .attr("font-size",46).text(v);
    });
    g.append("text").attr("x",(x0+x1)/2).attr("y",1333).attr("text-anchor","middle")
      .attr("font-size",48).text("Energy loss (eV)");
  }
});

// legends
function legend(names,bx,by,bw,rows0,step,sx0,sx1,tx){
  const g=svg.append("g");
  g.append("rect").attr("x",bx).attr("y",by).attr("width",bw).attr("height",rows0-by+step*(names.length-1)+22)
    .attr("fill","#fff").attr("stroke","#000").attr("stroke-width",2);
  names.forEach((n,i)=>{
    const yy=rows0+i*step, st=style[n];
    g.append("line").attr("x1",sx0).attr("x2",sx1).attr("y1",yy).attr("y2",yy)
      .attr("stroke",st.c).attr("stroke-width",st.w+1).attr("stroke-dasharray",n==="SD"?"4,2.5":(n==="DFT"?"14,18":st.d));
    g.append("text").attr("x",tx).attr("y",yy).attr("dy","0.36em").attr("font-size",31).text(n);
  });
}
legend(legendA,169,89,273,115,40.7,184,255,270);
legend(legendB,2016,93,250,118,40.3,2016,2093,2101);

// exponent labels
svg.append("text").attr("x",103).attr("y",58).attr("font-size",38).text("\u00d710");
svg.append("text").attr("x",172).attr("y",38).attr("font-size",26).text("\u22122");
svg.append("text").attr("x",1938).attr("y",65).attr("font-size",38).text("\u00d710");
svg.append("text").attr("x",2007).attr("y",45).attr("font-size",26).text("\u22123");

// y axis titles (kept clear of the tick labels)
svg.append("text").attr("transform","translate(46,648) rotate(-90)").attr("text-anchor","middle")
  .attr("font-size",46).text("(a) Loss probability (a.u)");
svg.append("text").attr("transform","translate(1884,654) rotate(-90)").attr("text-anchor","middle")
  .attr("font-size",46).text("(b) Loss probability (a.u)");

// arrow in R=100nm of panel (a)
{
  const s=scales[5], ax=s.x(arrowA[0]), ya=s.y(arrowA[1]), yb=s.y(arrowA[2]);
  const ag=svg.append("g").attr("stroke","#808080").attr("stroke-width",6).attr("fill","none");
  ag.append("line").attr("x1",ax).attr("x2",ax).attr("y1",ya).attr("y2",yb-4);
  ag.append("path").attr("d",`M${ax-14},${yb-42} L${ax},${yb} L${ax+14},${yb-42}`).attr("stroke-linejoin","miter");
}

// panel captions
svg.append("text").attr("x",873).attr("y",1441).attr("text-anchor","middle").attr("font-size",64)
  .html('(<tspan font-weight="bold">a</tspan>)');
svg.append("text").attr("x",2680).attr("y",1441).attr("text-anchor","middle").attr("font-size",64)
  .html('(<tspan font-weight="bold">b</tspan>)');
</script>
</body>
</html>
